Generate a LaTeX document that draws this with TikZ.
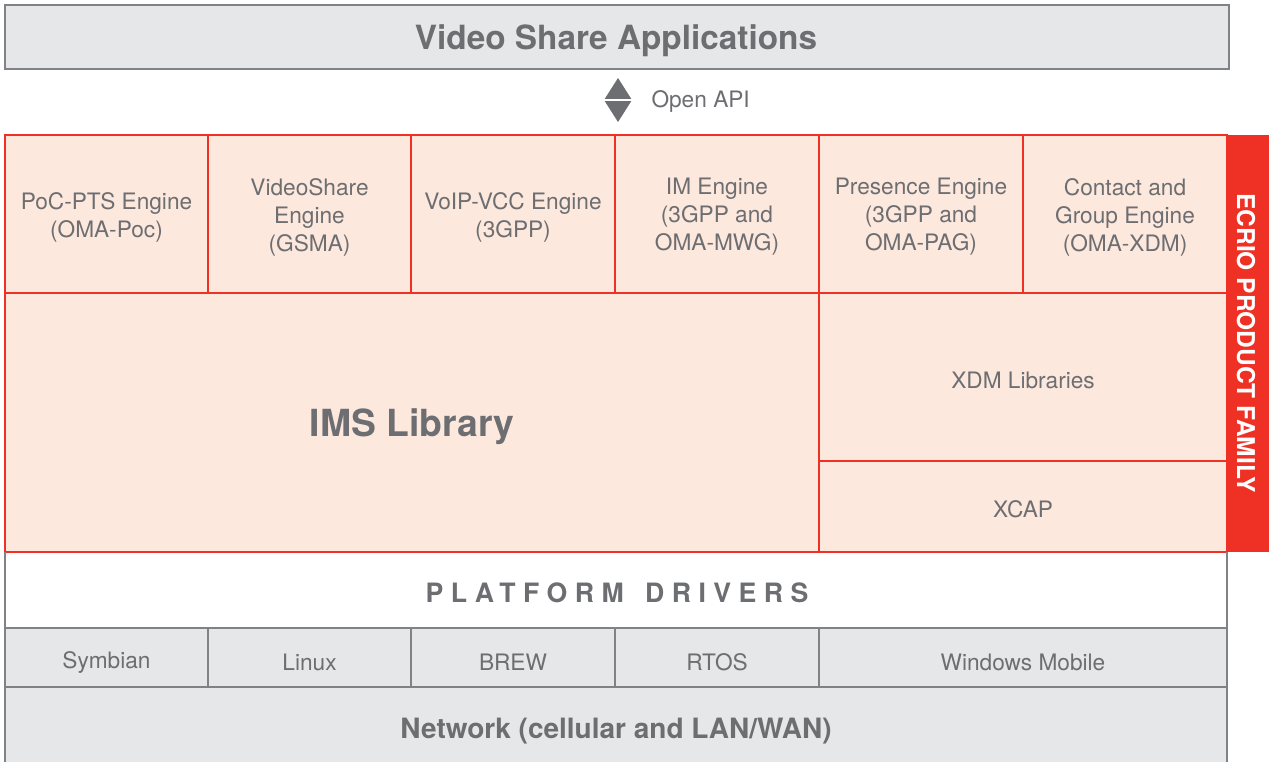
\documentclass[tikz,border=0pt]{standalone}
\usepackage{fontspec}
\setmainfont{TeX Gyre Heros}
\usepackage{tikz}
\usetikzlibrary{calc}
\definecolor{txtgray}{RGB}{109,110,113}
\definecolor{boxgray}{RGB}{230,231,232}
\definecolor{linegray}{RGB}{128,130,133}
\definecolor{ecred}{RGB}{238,49,36}
\definecolor{peach}{RGB}{253,232,222}
\tikzset{every picture/.style={line width=0.75pt}}
\tikzset{
  graybox/.style={draw=linegray,fill=boxgray,line width=1.5pt},
  redbox/.style={draw=ecred,fill=peach,line width=1.1pt},
  celltxt/.style={inner sep=0.75pt,align=center,text=txtgray,font=\fontsize{17}{21}\selectfont},
  headtxt/.style={inner sep=0.75pt,text=txtgray,font=\bfseries\fontsize{25}{30}\selectfont}
}

\begin{document}
\begin{tikzpicture}[x=0.75pt,y=0.75pt,yscale=-1,xscale=1]
\useasboundingbox (0,0) rectangle (1269,761);

%Shape: Rectangle [id:top]
\draw [graybox] (5,5) rectangle (1229,69);
%Shape: Diamond arrow [id:api]
\fill [txtgray] (604,100) -- (618,78) -- (632,100) -- cycle;
\fill [txtgray] (604,100) -- (618,122) -- (632,100) -- cycle;
\draw [white,line width=0.8pt] (604,100) -- (632,100);

%Shape: Red band [id:band]
\fill [ecred] (1227,135) rectangle (1269,552);
%Shape: Engine row
\foreach \xa/\xb in {5/208,208/411,411/615,615/819,819/1023,1023/1227}
  \draw [redbox] (\xa,135) rectangle (\xb,293);
%Shape: Libraries
\draw [redbox] (5,293) rectangle (819,552);
\draw [redbox] (819,293) rectangle (1227,461);
\draw [redbox] (819,461) rectangle (1227,552);

%Shape: Platform drivers
\draw [draw=linegray,line width=1.5pt] (5,552) -- (5,628) (1227,552) -- (1227,628);
%Shape: OS row
\foreach \xa/\xb in {5/208,208/411,411/615,615/819,819/1227}
  \draw [graybox] (\xa,628) rectangle (\xb,687);
%Shape: Network
\filldraw [fill=boxgray,draw=linegray,line width=1.5pt] (5,775) -- (5,687) -- (1227,687) -- (1227,775);

% Text Node
\node [headtxt] (apps) at (616,41) {Video Share Applications};
% Text Node
\node [celltxt,anchor=west] (openapi) at (650,101) {Open API};
% Text Node
\node [celltxt] (poc) at (106.5,217) {PoC-PTS Engine\\(OMA-Poc)};
\node [celltxt] (vshare) at (309.5,217) {VideoShare\\Engine\\(GSMA)};
\node [celltxt] (voip) at (513,217) {VoIP-VCC Engine\\(3GPP)};
\node [celltxt] (im) at (717,217) {IM Engine\\(3GPP and\\OMA-MWG)};
\node [celltxt] (pres) at (921,217) {Presence Engine\\(3GPP and\\OMA-PAG)};
\node [celltxt] (contact) at (1125,217) {Contact and\\Group Engine\\(OMA-XDM)};
% Text Node
\node [headtxt,font=\bfseries\fontsize{28}{32}\selectfont] (ims) at (412,427) {IMS Library};
\node [celltxt] (xdm) at (1023,380) {XDM Libraries};
\node [celltxt] (xcap) at (1023,509) {XCAP};
% Text Node
\node [text=white,inner sep=0.75pt,rotate=-90,font=\bfseries\fontsize{18.4}{22}\selectfont] (family) at (1246,343) {ECRIO PRODUCT FAMILY};
% Text Node
\node [headtxt,font=\bfseries\fontsize{20}{24}\selectfont\addfontfeature{LetterSpace=28}] (drivers) at (617,593) {PLATFORM\hspace{0.8em}DRIVERS};
% Text Node
\node [celltxt] (symb) at (106.5,662) {Symbian};
\node [celltxt] (linux) at (309.5,662) {Linux};
\node [celltxt] (brew) at (513,662) {BREW};
\node [celltxt] (rtos) at (717,662) {RTOS};
\node [celltxt] (winmob) at (1023,662) {Windows Mobile};
% Text Node
\node [headtxt,font=\bfseries\fontsize{21}{25}\selectfont] (net) at (616,731) {Network (cellular and LAN/WAN)};

\end{tikzpicture}
\end{document}
